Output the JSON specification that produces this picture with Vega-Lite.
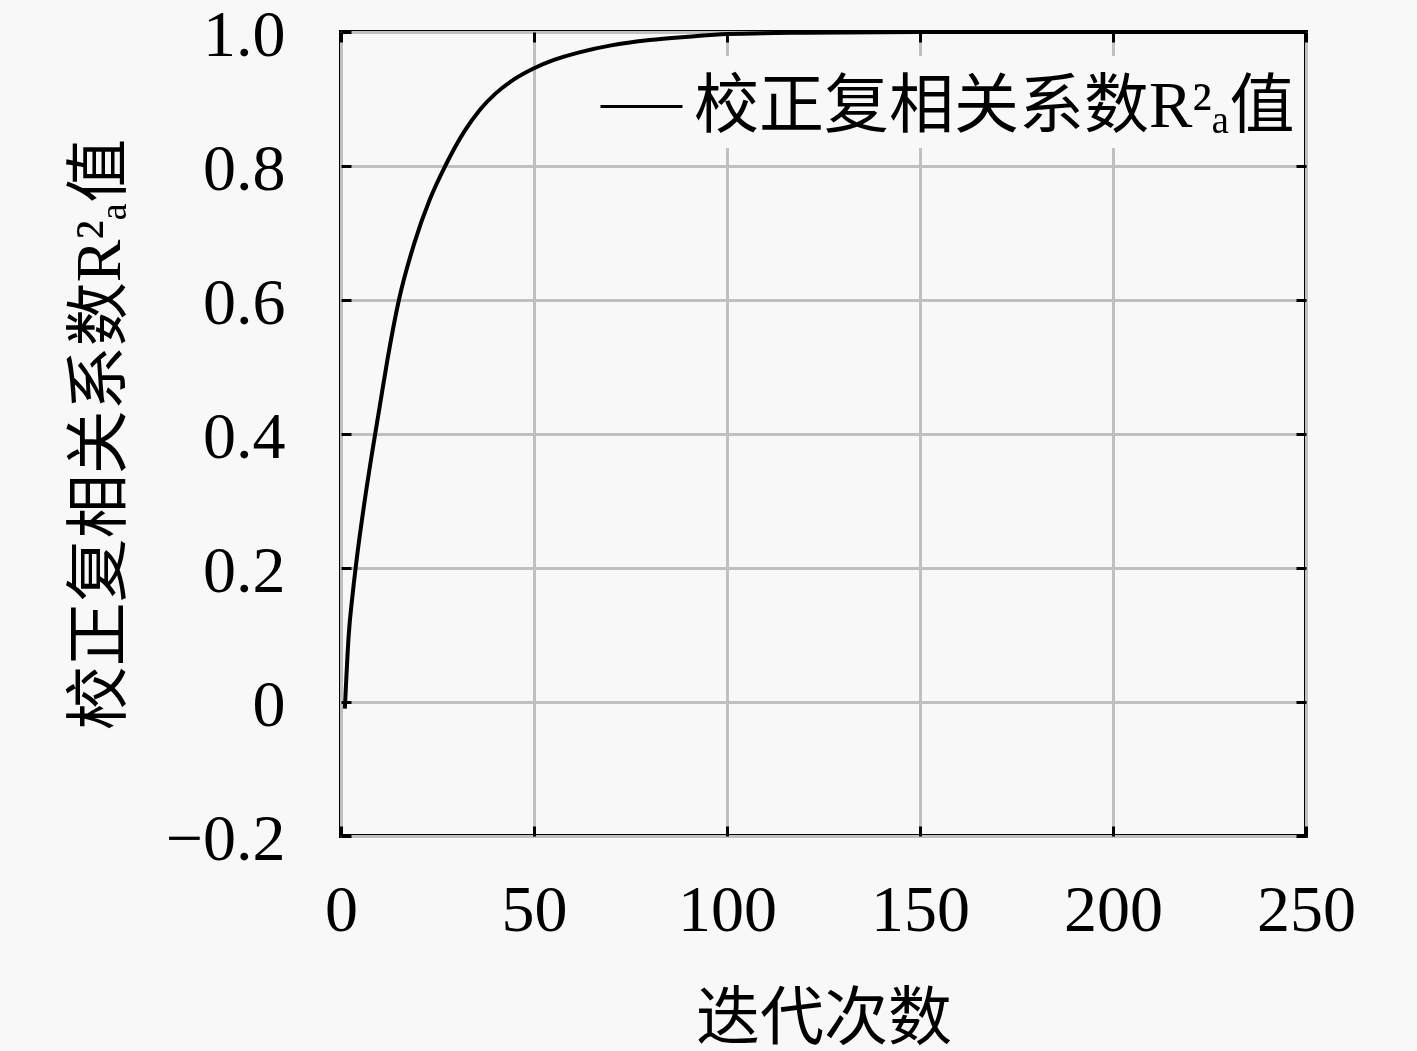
{
  "$schema": "https://vega.github.io/schema/vega-lite/v6.json",
  "description": "校正复相关系数随迭代次数变化",
  "width": 965,
  "height": 804,
  "autosize": "none",
  "padding": {"left": 341, "top": 32, "right": 111, "bottom": 215},
  "background": "#f8f8f8",
  "config": {
    "view": {"stroke": "black", "strokeWidth": 4, "fill": "#f8f8f8"},
    "font": "Liberation Serif",
    "axis": {
      "domain": false,
      "grid": true,
      "gridColor": "#c0c0c0",
      "gridWidth": 3,
      "tickColor": "black",
      "tickWidth": 3,
      "tickSize": -10,
      "labelFlush": false,
      "labelOverlap": false,
      "labelFont": "Liberation Serif",
      "labelFontSize": 66,
      "labelColor": "black",
      "titleFont": "Liberation Serif, Noto Sans CJK SC",
      "titleFontSize": 64,
      "titleFontWeight": "normal",
      "titleColor": "black"
    }
  },
  "data": {
    "values": [
      {"iter": 1, "r2": -0.01},
      {"iter": 2, "r2": 0.1},
      {"iter": 3, "r2": 0.16},
      {"iter": 4, "r2": 0.21},
      {"iter": 6, "r2": 0.295},
      {"iter": 8, "r2": 0.37},
      {"iter": 10, "r2": 0.44},
      {"iter": 12, "r2": 0.51},
      {"iter": 15, "r2": 0.6},
      {"iter": 19, "r2": 0.685},
      {"iter": 23, "r2": 0.75},
      {"iter": 27, "r2": 0.8},
      {"iter": 32, "r2": 0.852},
      {"iter": 36, "r2": 0.884},
      {"iter": 40, "r2": 0.908},
      {"iter": 45, "r2": 0.93},
      {"iter": 50, "r2": 0.946},
      {"iter": 55, "r2": 0.958},
      {"iter": 62, "r2": 0.97},
      {"iter": 70, "r2": 0.98},
      {"iter": 80, "r2": 0.988},
      {"iter": 90, "r2": 0.993},
      {"iter": 100, "r2": 0.997},
      {"iter": 120, "r2": 0.999},
      {"iter": 150, "r2": 1.0},
      {"iter": 200, "r2": 1.0},
      {"iter": 250, "r2": 1.0}
    ]
  },
  "layer": [
    {
      "mark": {"type": "line", "strokeWidth": 4, "interpolate": "monotone"},
      "encoding": {
        "x": {
          "field": "iter",
          "type": "quantitative",
          "scale": {"domain": [0, 250], "nice": false},
          "axis": {
            "orient": "bottom",
            "values": [0, 50, 100, 150, 200, 250],
            "labelPadding": 52,
            "title": "迭代次数",
            "titleY": 183,
            "titleBaseline": "middle"
          }
        },
        "y": {
          "field": "r2",
          "type": "quantitative",
          "scale": {"domain": [-0.2, 1.0], "nice": false, "zero": false},
          "axis": {
            "orient": "left",
            "values": [-0.2, 0, 0.2, 0.4, 0.6, 0.8, 1.0],
            "labelExpr": "datum.value == 0 ? '0' : format(datum.value, '.1f')",
            "labelPadding": 66,
            "labelOffset": 3,
            "title": "校正复相关系数R²ₐ值",
            "titleX": -241,
            "titleY": 402,
            "titleAngle": 270,
            "titleAlign": "center",
            "titleBaseline": "middle"
          }
        },
        "color": {
          "datum": "校正复相关系数R²ₐ值",
          "scale": {"range": ["black"]},
          "legend": {
            "title": null,
            "orient": "none",
            "legendX": 250,
            "legendY": 24,
            "padding": 8,
            "fillColor": "#f8f8f8",
            "symbolType": "stroke",
            "symbolSize": 6724,
            "symbolStrokeWidth": 3,
            "symbolStrokeColor": "black",
            "labelFont": "Liberation Serif, Noto Sans CJK SC",
            "labelFontSize": 65,
            "labelColor": "black",
            "labelLimit": 1000,
            "labelOffset": 10
          }
        }
      }
    },
    {
      "mark": {"type": "line", "opacity": 0},
      "encoding": {
        "x": {
          "field": "iter",
          "type": "quantitative",
          "axis": {"orient": "top", "values": [0, 50, 100, 150, 200, 250], "labels": false, "grid": false, "title": null}
        },
        "y": {
          "field": "r2",
          "type": "quantitative",
          "axis": {"orient": "right", "values": [-0.2, 0, 0.2, 0.4, 0.6, 0.8, 1.0], "labels": false, "grid": false, "title": null}
        }
      }
    }
  ],
  "resolve": {"axis": {"x": "independent", "y": "independent"}}
}
